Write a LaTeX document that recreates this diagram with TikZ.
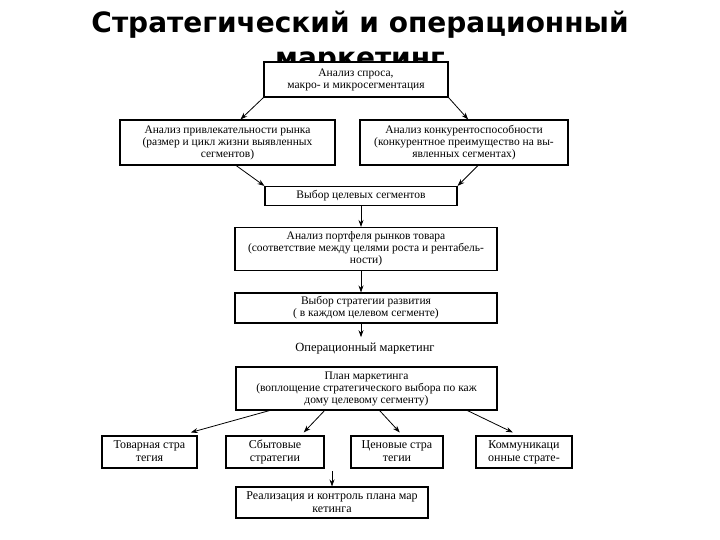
\documentclass[tikz,border=0pt]{standalone}
\usepackage{fontspec}
\setmainfont{Liberation Serif}
\newfontfamily\titlefont{DejaVu Sans}
\usetikzlibrary{arrows.meta,calc}
\newcommand{\tops}{\rule{0pt}{10pt}}
\newcommand{\bots}{\rule[-3.5pt]{0pt}{3.5pt}}
\tikzset{
  box/.style={draw, line width=1.1pt, fill=white, align=center, inner sep=1pt,
    font=\fontsize{11.5}{12}\selectfont},
  smallbox/.style={box, font=\fontsize{12}{13}\selectfont, minimum height=32pt},
  arr/.style={line width=0.8pt, -{Stealth[length=7pt,width=5pt]}},
}
\begin{document}
\begin{tikzpicture}[x=1pt,y=-1pt]
\useasboundingbox (0,0) rectangle (720,540);
\node[font=\titlefont\bfseries\fontsize{28}{35}\selectfont, align=center] (title) at (360,42)
  {Стратегический и операционный\\маркетинг};
\node[box, minimum width=184pt, minimum height=35pt] (top) at (356,79.5)
  {Анализ спроса,\\макро- и микросегментация};
\node[box, minimum width=215pt, minimum height=45pt] (L) at (227.5,142.5)
  {Анализ привлекательности рынка\\(размер и цикл жизни выявленных\\сегментов)};
\node[box, minimum width=208pt, minimum height=45pt] (R) at (464,142.5)
  {Анализ конкурентоспособности\\(конкурентное преимущество на вы-\\явленных сегментах)};
\node[box, minimum width=192pt, minimum height=19pt] (sel) at (361,196)
  {Выбор целевых сегментов};
\node[box, minimum width=262pt, minimum height=43pt] (port) at (366,249)
  {Анализ портфеля рынков товара\\(соответствие между целями роста и рентабель-\\ности)};
\node[box, minimum width=262pt, minimum height=30pt] (strat) at (366,308)
  {Выбор стратегии развития\\( в каждом целевом сегменте)};
\node[font=\fontsize{12.5}{13}\selectfont, inner sep=1pt] (oplab) at (365,349)
  {Операционный маркетинг};
\node[box, minimum width=261pt, minimum height=43pt] (plan) at (366.5,388.5)
  {План маркетинга\\(воплощение стратегического выбора по каж\\дому целевому сегменту)};
\node[smallbox, minimum width=95pt] (b1) at (149.5,452)
  {\tops Товарная стра\\тегия\bots};
\node[smallbox, minimum width=98pt] (b2) at (275,452)
  {\tops Сбытовые\\стратегии\bots};
\node[smallbox, minimum width=92pt] (b3) at (397,452)
  {\tops Ценовые стра\\тегии\bots};
\node[smallbox, minimum width=96pt] (b4) at (524,452)
  {\tops Коммуникаци\\онные страте-\bots};
\node[box, font=\fontsize{12}{13}\selectfont, minimum width=192pt, minimum height=31pt] (fin) at (332,502.5)
  {Реализация и контроль плана мар\\кетинга};
\coordinate (fs) at (332,471);

\draw[arr] (top.south west) -- ($(L.north west)!0.56!(L.north east)$);
\draw[arr] (top.south east) -- ($(R.north west)!0.52!(R.north east)$);
\draw[arr] ($(L.south west)!0.54!(L.south east)$) -- (sel.north west);
\draw[arr] ($(R.south west)!0.567!(R.south east)$) -- (sel.north east);
\draw[arr] (sel.south) -- (sel.south |- port.north);
\draw[arr] (sel.south |- port.south) -- (sel.south |- strat.north);
\draw[arr, shorten >=5pt] (sel.south |- strat.south) -- (sel.south |- oplab.north);
\draw[arr] ($(plan.south west)!0.13!(plan.south east)$) -- ($(b1.north west)!0.93!(b1.north east)+(0,-3)$);
\draw[arr] ($(plan.south west)!0.34!(plan.south east)$) -- ($(b2.north west)!0.79!(b2.north east)+(0,-3)$);
\draw[arr] ($(plan.south west)!0.55!(plan.south east)$) -- ($(b3.north west)!0.53!(b3.north east)+(0,-3)$);
\draw[arr] ($(plan.south west)!0.885!(plan.south east)$) -- ($(b4.north west)!0.385!(b4.north east)+(0,-3)$);
\draw[arr] (fs) -- (fin.north);
\end{tikzpicture}
\end{document}
